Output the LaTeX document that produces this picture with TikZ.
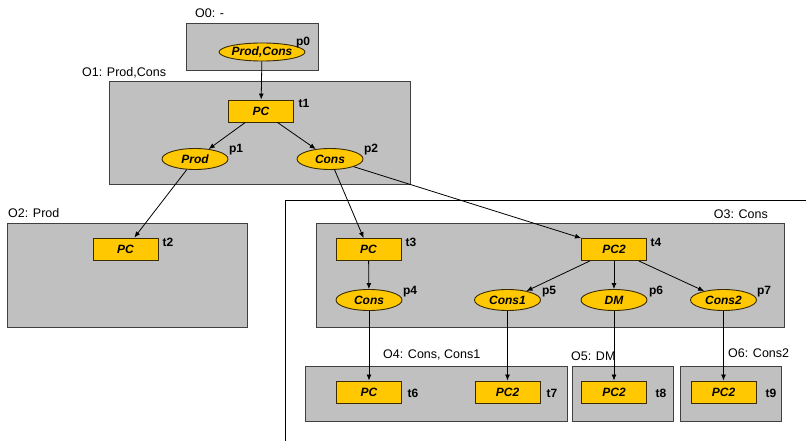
\documentclass[tikz,border=0pt]{standalone}
\usepackage{fontspec}
\setmainfont{Liberation Sans}
\usetikzlibrary{arrows.meta,shapes.geometric}
\definecolor{boxgray}{HTML}{C0C0C0}
\definecolor{boxedge}{HTML}{404040}
\definecolor{gold}{HTML}{FFC800}
\definecolor{goldedge}{HTML}{3A2C00}
\tikzset{
  grp/.style={draw=boxedge, line width=1.4pt, fill=boxgray, anchor=north west, inner sep=0pt},
  trans/.style={draw=goldedge, line width=0.9pt, fill=gold, rectangle, minimum width=65pt, minimum height=22pt, inner sep=0pt, font=\fontsize{12}{14}\selectfont\bfseries\itshape},
  place/.style={draw=goldedge, line width=0.9pt, fill=gold, ellipse, minimum width=66pt, minimum height=21pt, inner sep=0pt, font=\fontsize{12}{14}\selectfont\bfseries\itshape},
  tag/.style={font=\fontsize{12}{14}\selectfont\bfseries, inner sep=0pt},
  olab/.style={font=\fontsize{12.5}{14}\selectfont, inner sep=0pt},
  arc/.style={draw=black, line width=0.8pt, -{Latex[length=6pt,width=5pt]}},
}
\begin{document}
\begin{tikzpicture}[x=1pt, y=-1pt]
\useasboundingbox (0,0) rectangle (806,441);

% open frame around the Cons part
\draw[line width=1pt] (806,200) -- (285,200) -- (285,441);

% group boxes
\node[grp, minimum width=132pt, minimum height=47pt] (O0) at (186,23) {};
\node[grp, minimum width=301pt, minimum height=103pt] (O1) at (109,81) {};
\node[grp, minimum width=240pt, minimum height=104pt] (O2) at (7,223) {};
\node[grp, minimum width=468pt, minimum height=104pt] (O3) at (316,223) {};
\node[grp, minimum width=262pt, minimum height=55pt] (O4) at (305,366) {};
\node[grp, minimum width=101pt, minimum height=55pt] (O5) at (572,366) {};
\node[grp, minimum width=101pt, minimum height=55pt] (O6) at (680,366) {};

% group labels
\node[olab, anchor=west] (O0l) at (195,13) {O0: -};
\node[olab, anchor=west] (O1l) at (82,73) {O1: Prod,Cons};
\node[olab, anchor=west] (O2l) at (8,213) {O2: Prod};
\node[olab, anchor=east] (O3l) at (768,214) {O3: Cons};
\node[olab, anchor=west] (O4l) at (383,355) {O4: Cons, Cons1};
\node[olab, anchor=west] (O5l) at (571,356) {O5: DM};
\node[olab, anchor=west] (O6l) at (728,353) {O6: Cons2};

% places
\node[place, minimum width=67pt, minimum height=18pt] (p0) at (262,52) {Prod,Cons};
\node[place] (p1) at (195,159) {Prod};
\node[place] (p2) at (330,159) {Cons};
\node[place] (p4) at (369,300) {Cons};
\node[place] (p5) at (507.5,300) {Cons1};
\node[place] (p6) at (614,300) {DM};
\node[place] (p7) at (723.5,300) {Cons2};

% transitions
\node[trans] (t1) at (261,111) {PC};
\node[trans] (t2) at (125.5,249) {PC};
\node[trans] (t3) at (368.5,249.5) {PC};
\node[trans] (t4) at (614,249.5) {PC2};
\node[trans] (t6) at (369,392) {PC};
\node[trans] (t7) at (507.5,392) {PC2};
\node[trans] (t8) at (614,392) {PC2};
\node[trans] (t9) at (723.5,392) {PC2};

% element tags
\node[tag] (p0t) at (303,43) {p0};
\node[tag] (t1t) at (304,103) {t1};
\node[tag] (p1t) at (236,150) {p1};
\node[tag] (p2t) at (371,150) {p2};
\node[tag] (t2t) at (168,242) {t2};
\node[tag] (t3t) at (411,242) {t3};
\node[tag] (t4t) at (656,242) {t4};
\node[tag] (p4t) at (410,292) {p4};
\node[tag] (p5t) at (549,292) {p5};
\node[tag] (p6t) at (656,292) {p6};
\node[tag] (p7t) at (764,292) {p7};
\node[tag] (t6t) at (413,393) {t6};
\node[tag] (t7t) at (552,393) {t7};
\node[tag] (t8t) at (661,393) {t8};
\node[tag] (t9t) at (771,393) {t9};

% arcs
\draw[arc] (p0) -- (t1);
\draw[arc] (t1) -- (p1);
\draw[arc] (t1) -- (p2);
\draw[arc] (p1) -- (t2);
\draw[arc] (p2) -- (t3);
\draw[arc] (p2.-18) -- (t4.north west);
\draw[arc] (t3) -- (p4);
\draw[arc] (t4) -- (p5);
\draw[arc] (t4) -- (p6);
\draw[arc] (t4) -- (p7);
\draw[arc] (p4) -- (t6);
\draw[arc] (p5) -- (t7);
\draw[arc] (p6) -- (t8);
\draw[arc] (p7) -- (t9);
\end{tikzpicture}
\end{document}
